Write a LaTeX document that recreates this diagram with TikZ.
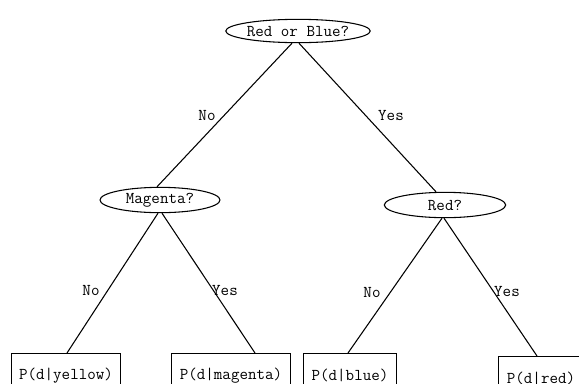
\documentclass[tikz,border=0pt]{standalone}
\usetikzlibrary{shapes.geometric}
\begin{document}
\begin{tikzpicture}[x=0.75pt,y=-0.75pt,
  every node/.style={font=\ttfamily\fontsize{12.4}{14}\selectfont},
  question/.style={draw, ellipse, line width=0.8pt, inner sep=0pt},
  leafbox/.style={draw, rectangle, line width=0.8pt, anchor=north,
    inner xsep=6pt, minimum height=33pt},
  branch/.style={line width=0.8pt},
  tag/.style={inner sep=0pt}]
\useasboundingbox (0,0) rectangle (579,383);
\clip (0,0) rectangle (579,383);

% decision nodes
\node[question, minimum width=101pt, minimum height=17.5pt] (root) at (298,31) {Red or Blue?};
\node[question, minimum width=90pt, minimum height=19pt] (mag) at (160,200) {Magenta?};
\node[question, minimum width=91pt, minimum height=19pt] (red) at (445,205) {Red?};

% leaves
\node[leafbox] (pyellow) at (66,353) {P(d|yellow)};
\node[leafbox] (pmagenta) at (231,353) {P(d|magenta)};
\node[leafbox] (pblue) at (350,353) {P(d|blue)};
\node[leafbox] (pred) at (541,356) {P(d|red)};

% branches
\draw[branch] ([xshift=-4.5pt]root.south) -- ([xshift=-2.25pt]mag.north);
\draw[branch] ([xshift=0.75pt]root.south) -- ([xshift=-6.75pt]red.north);
\draw[branch] ([xshift=-1.5pt]mag.south) -- ([xshift=0.75pt]pyellow.north);
\draw[branch] ([xshift=1.5pt]mag.south) -- ([xshift=18pt]pmagenta.north);
\draw[branch] ([xshift=-2.25pt]red.south) -- ([xshift=-1.5pt]pblue.north);
\draw[branch] ([xshift=-0.75pt]red.south) -- ([xshift=-3pt]pred.north);

% branch labels
\node[tag] (rootno) at (207,115) {No};
\node[tag] (rootyes) at (391,115) {Yes};
\node[tag] (magno) at (91,290) {No};
\node[tag] (magyes) at (225,290) {Yes};
\node[tag] (redno) at (372,292) {No};
\node[tag] (redyes) at (507,291) {Yes};
\end{tikzpicture}
\end{document}
